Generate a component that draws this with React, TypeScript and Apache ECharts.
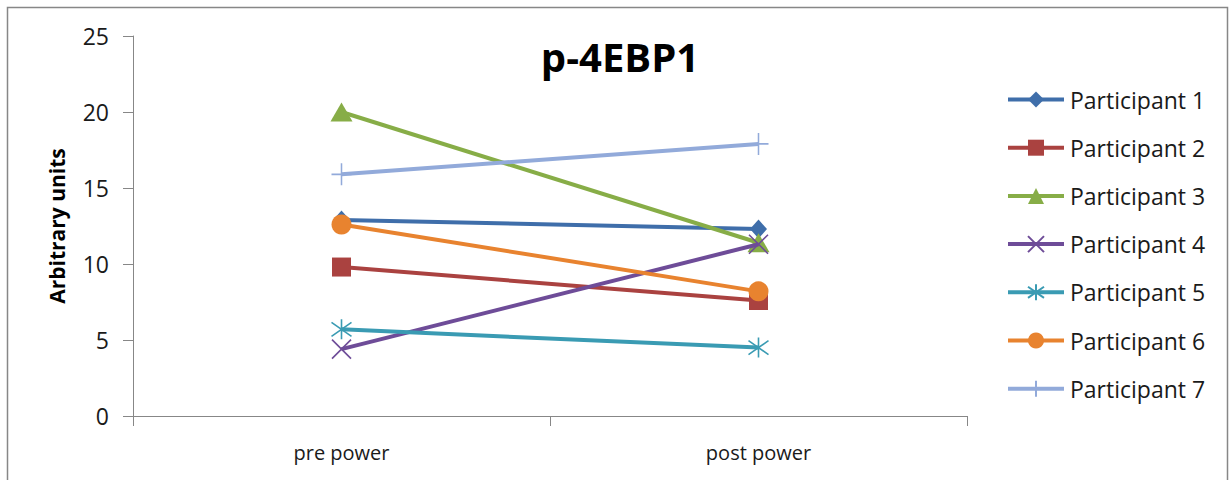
import React, { useEffect, useRef } from "react";
import * as echarts from "echarts";

// Time points on the x axis
const categories = ["pre power", "post power"];

// Participant names (legend order)
const participants = [
  "Participant 1",
  "Participant 2",
  "Participant 3",
  "Participant 4",
  "Participant 5",
  "Participant 6",
  "Participant 7",
];

// p-4EBP1 values [pre, post] for each participant (arbitrary units)
const p1 = [12.9, 12.3];
const p2 = [9.8, 7.6];
const p3 = [20.0, 11.4];
const p4 = [4.4, 11.3];
const p5 = [5.7, 4.5];
const p6 = [12.6, 8.2];
const p7 = [15.9, 17.9];

const yTicks = [0, 5, 10, 15, 20, 25];

const FONT = "'Open Sans', 'Noto Sans', sans-serif";

const colors = ["#3F6EAA", "#AA4240", "#87AD47", "#6E4C98", "#3A9BB3", "#E8832F", "#92AADA"];

// Stroked marker shapes
const X_PATH = "path://M2 2 L18 18 M18 2 L2 18";
const STAR_PATH = "path://M3 3 L17 17 M17 3 L3 17 M10 0 L10 20";
const PLUS_PATH = "path://M10 0 L10 20 M0 10 L20 10";

type Marker = { symbol: string; size: number | number[]; stroked: boolean };

const markers: Marker[] = [
  { symbol: "diamond", size: [17, 19], stroked: false },
  { symbol: "rect", size: 19, stroked: false },
  { symbol: "triangle", size: [22, 19], stroked: false },
  { symbol: X_PATH, size: 19, stroked: true },
  { symbol: STAR_PATH, size: 20, stroked: true },
  { symbol: "circle", size: 20, stroked: false },
  { symbol: PLUS_PATH, size: [20, 22], stroked: true },
];

const values = [p1, p2, p3, p4, p5, p6, p7];

export default function App() {
  const ref = useRef<HTMLDivElement>(null);

  useEffect(() => {
    if (!ref.current) return;
    const chart = echarts.init(ref.current, undefined, { renderer: "svg" });

    const series = participants.map((name, i) => {
      const m = markers[i];
      const c = colors[i];
      return {
        name,
        type: "line",
        data: values[i],
        symbol: m.symbol,
        symbolSize: m.size,
        showAllSymbol: true,
        color: c,
        lineStyle: { color: c, width: 4 },
        itemStyle: m.stroked
          ? { color: "rgba(0,0,0,0)", borderColor: c, borderWidth: 1.6 }
          : { color: c, borderWidth: 0 },
        emphasis: { disabled: true },
        z: 2 + i,
      };
    });

    chart.setOption({
      animation: false,
      backgroundColor: "#ffffff",
      title: {
        text: "p-4EBP1",
        left: 615,
        top: 31,
        textAlign: "center",
        textStyle: { fontFamily: FONT, fontSize: 40, fontWeight: "bold", color: "#000000" },
      },
      grid: { left: 133, top: 36, right: 263, bottom: 64, containLabel: false },
      legend: {
        orient: "vertical",
        left: 1006,
        top: 88,
        padding: 0,
        itemWidth: 56,
        itemHeight: 20,
        itemGap: 25.2,
        data: participants,
        lineStyle: { width: 4 },
        textStyle: { fontFamily: FONT, fontSize: 23, lineHeight: 20, color: "#1a1a1a", padding: [0, 0, 0, 1] },
        selectedMode: false,
      },
      xAxis: {
        type: "category",
        data: categories,
        boundaryGap: true,
        axisLine: { lineStyle: { color: "#878787", width: 1 } },
        axisTick: { show: true, length: 10, lineStyle: { color: "#878787" } },
        axisLabel: { fontFamily: FONT, fontSize: 20, color: "#1a1a1a", margin: 26 },
      },
      yAxis: {
        type: "value",
        min: yTicks[0],
        max: yTicks[yTicks.length - 1],
        interval: 5,
        name: "Arbitrary units",
        nameLocation: "middle",
        nameGap: 66,
        nameTextStyle: { fontFamily: FONT, fontSize: 21, fontWeight: "bold", color: "#000000" },
        axisLine: { show: true, lineStyle: { color: "#878787", width: 1 } },
        axisTick: { show: true, length: 10, lineStyle: { color: "#878787" } },
        splitLine: { show: false },
        axisLabel: { fontFamily: FONT, fontSize: 23, color: "#1a1a1a", margin: 24 },
      },
      graphic: [
        {
          type: "rect",
          shape: { x: 7.5, y: 7.5, width: 1220, height: 500 },
          style: { fill: "none", stroke: "#878787", lineWidth: 1.5 },
          silent: true,
          z: -1,
        },
      ],
      series,
    });

    return () => chart.dispose();
  }, []);

  return (
    <div
      ref={ref}
      style={{ position: "absolute", left: 0, top: 0, width: 1230, height: 480 }}
    />
  );
}
